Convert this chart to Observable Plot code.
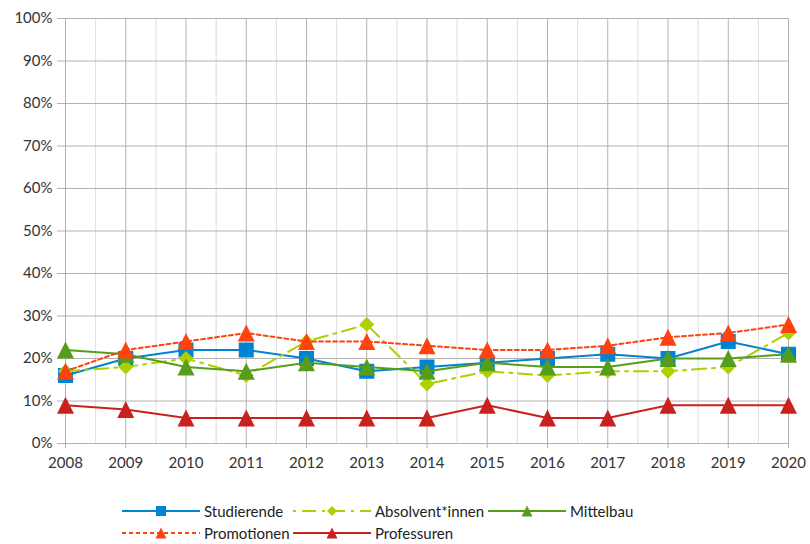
<!DOCTYPE html>
<html><head><meta charset="utf-8">
<script src="https://cdn.jsdelivr.net/npm/d3@7"></script>
<script src="https://cdn.jsdelivr.net/npm/@observablehq/plot@0.6"></script>
<style>
body{margin:0;background:#fff;font-family:Lato,"DejaVu Sans",sans-serif;}
#wrap{position:relative;width:810px;height:544px;}
.leg{position:absolute;display:flex;align-items:center;font-size:15px;color:#222;white-space:nowrap;}
.leg svg{margin-right:4px;}
</style></head>
<body><div id="wrap"><div id="chart"></div></div>
<script>
const years = [2008,2009,2010,2011,2012,2013,2014,2015,2016,2017,2018,2019,2020];
const studierende   = [16,20,22,22,20,17,18,19,20,21,20,24,21];
const absolventen   = [17,18,20,16,24,28,14,17,16,17,17,18,26];
const mittelbau     = [22,21,18,17,19,18,17,19,18,18,20,20,21];
const promotionen   = [17,22,24,26,24,24,23,22,22,23,25,26,28];
const professuren   = [9,8,6,6,6,6,6,9,6,6,9,9,9];
const yTicks = [0,10,20,30,40,50,60,70,80,90,100];

const sq = {draw(c,s){const r=Math.sqrt(s/Math.PI);c.rect(-r,-r,2*r,2*r);}};
const tri = {draw(c,s){const r=Math.sqrt(s/Math.PI);c.moveTo(0,-r);c.lineTo(r,r);c.lineTo(-r,r);c.closePath();}};
const dia = {draw(c,s){const r=Math.sqrt(s/Math.PI);c.moveTo(0,-r);c.lineTo(r,0);c.lineTo(0,r);c.lineTo(-r,0);c.closePath();}};

const series = [
  {name:"Studierende", values:studierende, color:"#0084d1", dash:null, sym:sq, r:7.5, lr:5},
  {name:"Absolvent*innen", values:absolventen, color:"#aecf00", dash:"14,6,3,6", sym:dia, r:7.5, lr:5},
  {name:"Mittelbau", values:mittelbau, color:"#579d1c", dash:null, sym:tri, r:8.5, lr:5.5},
  {name:"Promotionen", values:promotionen, color:"#ff420e", dash:"4,3", sym:tri, r:8.5, lr:5.5},
  {name:"Professuren", values:professuren, color:"#c9211e", dash:null, sym:tri, r:8.5, lr:5.5}
];

const marks = [
  Plot.ruleX(years.slice(1).map(y=>y-0.5), {stroke:"#dddddd", strokeWidth:1}),
  Plot.ruleX(years, {stroke:"#b3b3b3", strokeWidth:1, y1:-0.012, y2:1}),
  Plot.ruleY(yTicks.map(d=>d/100), {stroke:"#b3b3b3", strokeWidth:1}),
  Plot.axisY(yTicks.map(d=>d/100), {tickFormat:d=>Math.round(d*100)+"%", tickSize:8, tickPadding:5, stroke:"#b3b3b3", fill:"#333", fontSize:15, label:null}),
  Plot.axisX(years, {tickFormat:d=>String(d), tickSize:0, tickPadding:14, fill:"#333", fontSize:15, label:null})
];
for (const s of series) {
  const data = years.map((y,i)=>({year:y, v:s.values[i]/100}));
  marks.push(Plot.line(data, {x:"year", y:"v", stroke:s.color, strokeWidth:2, strokeDasharray:s.dash, curve:"linear"}));
  marks.push(Plot.dot(data, {x:"year", y:"v", fill:s.color, stroke:"none", symbol:s.sym, r:s.r}));
}

const chart = Plot.plot({
  width:810, height:490,
  marginLeft:65, marginRight:22, marginTop:18, marginBottom:47,
  x:{domain:[2008,2020]},
  y:{domain:[0,1]},
  style:{fontFamily:"Lato, sans-serif", fontSize:"15px", background:"#fff", overflow:"visible"},
  marks
});
document.getElementById("chart").appendChild(chart);

const pos = [[122,511],[293,511],[488,511],[122,533],[293,533]];
const wrap = document.getElementById("wrap");
series.forEach((s,i)=>{
  const d = document.createElement("div");
  d.className="leg";
  d.style.left = pos[i][0]+"px";
  d.style.top = (pos[i][1]-10)+"px";
  d.style.height="20px";
  const w = 78;
  const sym = d3.symbol(s.sym, s.lr*s.lr*Math.PI)();
  d.innerHTML = `<svg width="${w}" height="20"><line x1="0" y1="10" x2="${w}" y2="10" stroke="${s.color}" stroke-width="2" ${s.dash?`stroke-dasharray="${s.dash==='4,3'?'4,3':'3,6,14,6'}"`:''}/><path d="${sym}" transform="translate(${w/2},10)" fill="${s.color}"/></svg><span>${s.name}</span>`;
  wrap.appendChild(d);
});
</script></body></html>
